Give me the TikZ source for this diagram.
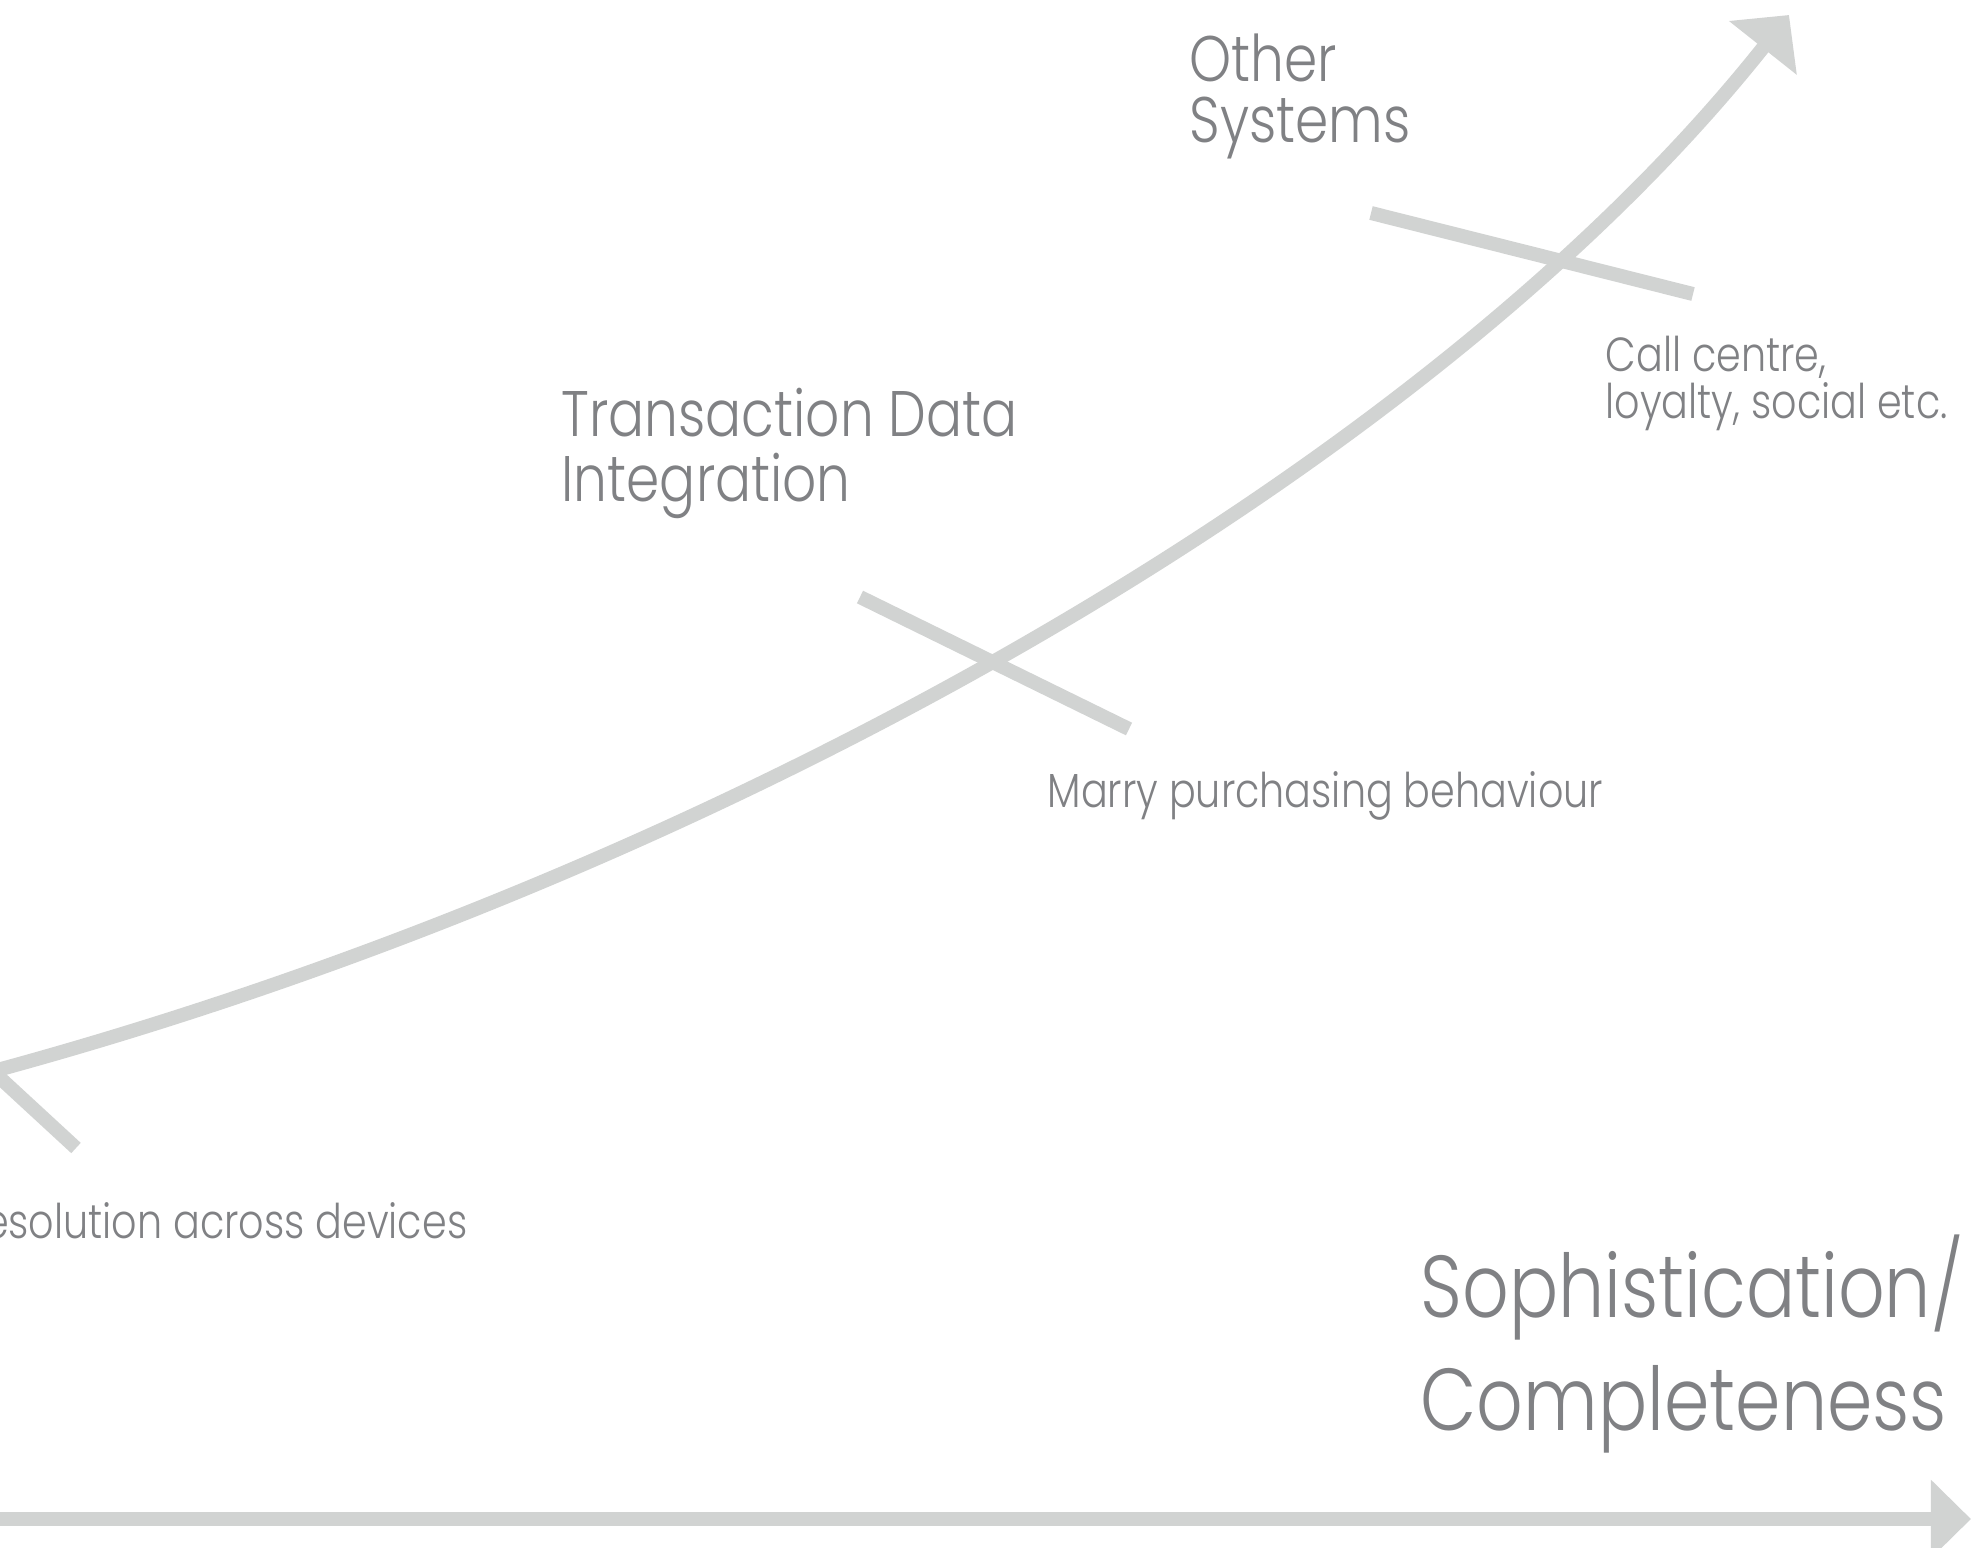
\documentclass[tikz,border=0pt]{standalone}
\usepackage{fontspec}
\setmainfont{Poppins}[UprightFont=* Light, FakeStretch=0.83]
\usetikzlibrary{arrows.meta,calc}
\definecolor{curvegray}{HTML}{D1D3D2}
\definecolor{labelgray}{HTML}{808184}
\tikzset{track/.style={curvegray,line width=1.4mm},
         stroke/.style={curvegray,line width=1.4mm}}

\begin{document}
\begin{tikzpicture}[x=0.01cm,y=-0.01cm,
                    caption/.style={text=labelgray,inner sep=0pt,anchor=base west},
                    big/.style={font=\fontsize{18.3pt}{18pt}\selectfont},
                    small/.style={font=\fontsize{13.6pt}{14pt}\selectfont}]

		\useasboundingbox (0,0) rectangle (1971,1547);
		\clip (0,0) rectangle (1971,1547);

		% A curva de crescimento
		\coordinate (start) at (-10,1072);
		\coordinate (tip)   at (1789,15);
		\draw [track,-{Triangle[length=4.2mm,width=8.4mm]}]
			(start) .. controls (700,880) and (1420,480) .. (tip);

		% Os tracos sobre a curva
		\draw [stroke] (1371,213) -- (1693,294);
		\draw [stroke] (860,597) -- (1129,729);
		\draw [stroke] (-40,1041) -- (76,1148);

		% O eixo horizontal
		\coordinate (axis left)  at (-10,1519);
		\coordinate (axis right) at (1971,1519);
		\draw [track,-{Triangle[length=4mm,width=7.6mm]}] (axis left) -- (axis right);

		% Rotulos das etapas
		\node [caption,big] (other)       at (1189,81)  {Other};
		\node [caption,big] (systems)     at (1189,142) {Systems};
		\node [caption,big] (transaction) at (561,436)  {Transaction Data};
		\node [caption,big] (integration) at (561,501)  {Integration};

		% Rotulos menores
		\node [caption,small] (call)    at (1605,371) {Call centre,};
		\node [caption,small] (loyalty) at (1605,418) {loyalty, social etc.};
		\node [caption,small] (marry)   at (1047,807) {Marry purchasing behaviour};
		\node [caption,small,anchor=base east] (devices) at (468,1238)
			{esolution across devices};

		% Rotulo do eixo
		\node [caption,font=\fontsize{25pt}{25pt}\selectfont] (soph) at (1420,1317)
			{Sophistication/};
		\node [caption,font=\fontsize{25pt}{25pt}\selectfont] (compl) at (1420,1430)
			{Completeness};

\end{tikzpicture}
\end{document}
